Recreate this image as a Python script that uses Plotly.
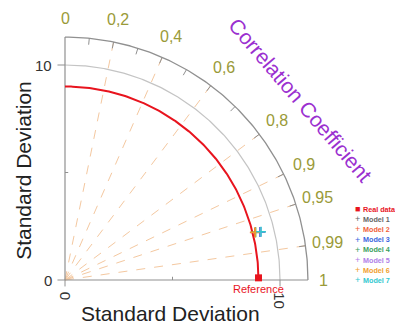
import numpy as np
import plotly.graph_objects as go

# ---------------- data ----------------
ref_std = 9.0
model_names = ["Model 1", "Model 2", "Model 3", "Model 4", "Model 5", "Model 6", "Model 7"]
model_std = [9.36, 9.10, 9.34, 9.14, 9.37, 9.12, 9.39]
model_corr = [0.971, 0.970, 0.971, 0.970, 0.971, 0.970, 0.971]
model_colors = ["#666666", "#f0603a", "#3a66e0", "#3aa060", "#b080e8", "#f0a030", "#30c8d0"]
corr_label_vals = [0, 0.2, 0.4, 0.6, 0.8, 0.9, 0.95, 0.99, 1]
corr_label_text = ["0", "0,2", "0,4", "0,6", "0,8", "0,9", "0,95", "0,99", "1"]
corr_line_vals = [0.2, 0.4, 0.6, 0.8, 0.9, 0.95, 0.99]
corr_tick_vals = [0.1, 0.2, 0.3, 0.4, 0.5, 0.6, 0.7, 0.8, 0.9, 0.95, 0.99]
std_max = 11.3
std_grid = [10]
std_tick_vals = [0, 10]
std_tick_text = ["0", "10"]
std_minor = [5]

FONT = "Liberation Sans, Arial, sans-serif"
OLIVE = "#9a9a38"
PX = 21.5      # pixels per unit
W, H = 395, 325

fig = go.Figure()

def polar_xy(r, c):
    th = np.arccos(np.clip(c, -1, 1))
    return r * np.cos(th), r * np.sin(th)

th_full = np.linspace(0, np.pi / 2, 200)

# radial dashed correlation lines
for c in corr_line_vals:
    x, y = polar_xy(np.array([0, std_max]), c)
    fig.add_trace(go.Scatter(x=x, y=y, mode="lines", hoverinfo="skip", showlegend=False,
                             line=dict(color="#f4c8a0", width=1, dash="dash")))

# std grid arc(s)
for r in std_grid:
    fig.add_trace(go.Scatter(x=r * np.cos(th_full), y=r * np.sin(th_full), mode="lines",
                             hoverinfo="skip", showlegend=False,
                             line=dict(color="#c4c4c4", width=1.2)))

# outer arc
fig.add_trace(go.Scatter(x=std_max * np.cos(th_full), y=std_max * np.sin(th_full), mode="lines",
                         hoverinfo="skip", showlegend=False,
                         line=dict(color="#909090", width=1.3)))

# outer arc ticks (inward)
for c in corr_tick_vals:
    x, y = polar_xy(np.array([std_max - 0.3, std_max]), c)
    fig.add_trace(go.Scatter(x=x, y=y, mode="lines", hoverinfo="skip", showlegend=False,
                             line=dict(color="#909090", width=1)))

# axes lines
fig.add_trace(go.Scatter(x=[0, std_max], y=[0, 0], mode="lines", hoverinfo="skip", showlegend=False,
                         line=dict(color="#909090", width=1.2)))
fig.add_trace(go.Scatter(x=[0, 0], y=[0, std_max], mode="lines", hoverinfo="skip", showlegend=False,
                         line=dict(color="#909090", width=1.2)))
# outward ticks at 0 and 10
for v in std_tick_vals:
    fig.add_trace(go.Scatter(x=[-0.35, 0], y=[v, v], mode="lines", hoverinfo="skip", showlegend=False,
                             line=dict(color="#909090", width=1)))
    fig.add_trace(go.Scatter(x=[v, v], y=[-0.3, 0], mode="lines", hoverinfo="skip", showlegend=False,
                             line=dict(color="#909090", width=1)))
for v in std_minor:
    fig.add_trace(go.Scatter(x=[0, 0.15], y=[v, v], mode="lines", hoverinfo="skip", showlegend=False,
                             line=dict(color="#909090", width=1)))
    fig.add_trace(go.Scatter(x=[v, v], y=[0, 0.15], mode="lines", hoverinfo="skip", showlegend=False,
                             line=dict(color="#909090", width=1)))

# reference std arc
fig.add_trace(go.Scatter(x=ref_std * np.cos(th_full), y=ref_std * np.sin(th_full), mode="lines",
                         hoverinfo="skip", showlegend=False,
                         line=dict(color="#e8141e", width=2)))

# reference point
fig.add_trace(go.Scatter(x=[ref_std], y=[0.1], mode="markers", showlegend=False,
                         marker=dict(symbol="square", size=7, color="#e8141e")))

# model points
for n, s, c, col in zip(model_names, model_std, model_corr, model_colors):
    x, y = polar_xy(s, c)
    fig.add_trace(go.Scatter(x=[x], y=[y], mode="markers", name=n, showlegend=False,
                             marker=dict(symbol="cross-thin", size=7,
                                         line=dict(width=1.5, color=col))))

ann = []
# correlation labels
for v, t in zip(corr_label_vals, corr_label_text):
    r = 12.0 if v == 1 else (12.15 if v == 0 else 12.35)
    x, y = polar_xy(r, v)
    ann.append(dict(x=x, y=y, text=t, showarrow=False, xanchor="center", yanchor="middle",
                    font=dict(family=FONT, size=16, color=OLIVE)))

# std tick labels
for v, t in zip(std_tick_vals, std_tick_text):
    ann.append(dict(x=-0.5, y=v, text=t, showarrow=False, xanchor="right", yanchor="middle",
                    font=dict(family=FONT, size=15, color="#333333")))
    ann.append(dict(x=v, y=-0.45, text=t, showarrow=False, xanchor="center", yanchor="top",
                    textangle=90, font=dict(family=FONT, size=15, color="#333333")))

ann.append(dict(x=ref_std, y=-0.4, text="Reference", showarrow=False, xanchor="center", yanchor="middle",
                font=dict(family=FONT, size=11, color="#e8141e")))

# axis titles
ann.append(dict(x=4.9, y=-1.56, text="Standard Deviation", showarrow=False, xanchor="center",
                yanchor="middle", font=dict(family=FONT, size=21, color="#222222")))
ann.append(dict(x=-1.93, y=5.1, text="Standard Deviation", showarrow=False, xanchor="center",
                yanchor="middle", textangle=-90, font=dict(family=FONT, size=21, color="#222222")))
ann.append(dict(x=(301 - 65) / PX, y=(280 - 100) / PX, text="Correlation Coefficient", showarrow=False,
                xanchor="center", yanchor="middle", textangle=49.5,
                font=dict(family=FONT, size=21, color="#9b30d0")))

# legend (annotations)
leg_names = ["Real data"] + model_names
leg_colors = ["#e8141e"] + model_colors
leg_syms = ["\u25A0"] + ["+"] * len(model_names)
for i, (n, col, sym) in enumerate(zip(leg_names, leg_colors, leg_syms)):
    py = 209 + 10.2 * i
    ann.append(dict(xref="paper", yref="paper", x=357 / W, y=1 - py / H, text=sym,
                    showarrow=False, xanchor="center", yanchor="middle",
                    font=dict(family=FONT, size=9, color=col)))
    ann.append(dict(xref="paper", yref="paper", x=361 / W, y=1 - py / H,
                    text="<b>" + n + "</b>", showarrow=False, xanchor="left", yanchor="middle",
                    font=dict(family=FONT, size=7.2, color=col)))

fig.update_layout(
    width=W, height=H,
    margin=dict(l=0, r=0, t=0, b=0),
    paper_bgcolor="white", plot_bgcolor="white",
    xaxis=dict(range=[-65 / PX, (W - 65) / PX], visible=False, fixedrange=True),
    yaxis=dict(range=[(280 - H) / PX, 280 / PX], visible=False, fixedrange=True),
    annotations=ann,
    showlegend=False,
)

fig.write_html("out.html", config={"displayModeBar": False},
               post_script="document.body.style.margin='0';document.body.style.overflow='hidden';")
